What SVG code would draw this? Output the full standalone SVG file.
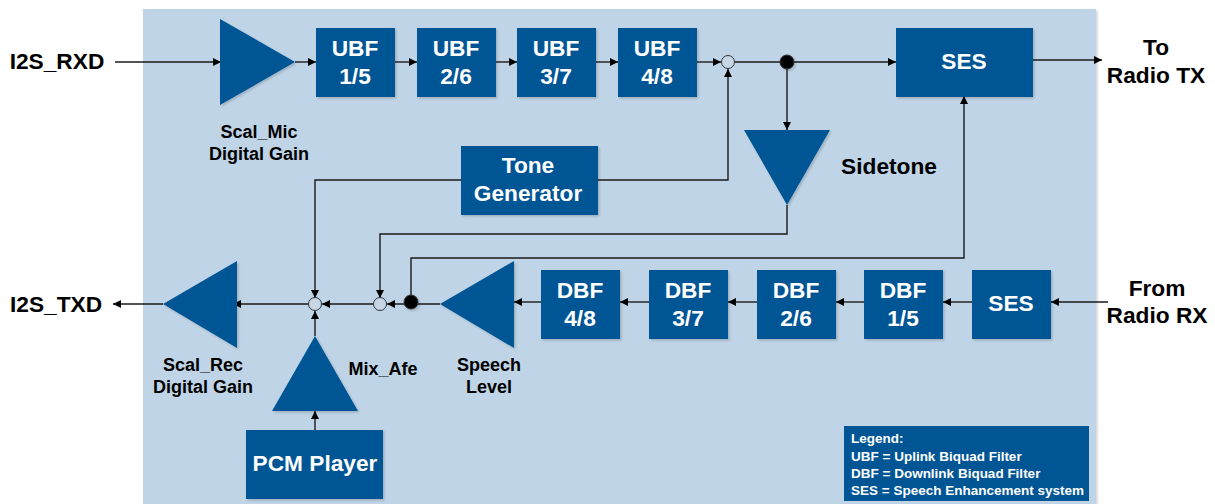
<svg xmlns="http://www.w3.org/2000/svg" width="1215" height="504" viewBox="0 0 1215 504">
<style>
text{font-family:"Liberation Sans",Arial,sans-serif;font-weight:bold;text-anchor:middle}
.b{fill:#005595}
.w{fill:#fff;font-size:22.7px}
.k{fill:#000;font-size:22.7px}
.s{fill:#000;font-size:18px}
.l{fill:#fff;font-size:13.5px;text-anchor:start}
.c{fill:none;stroke:#1a1a1a;stroke-width:1.4;marker-end:url(#a)}
.o{fill:#c6d6e4;stroke:#333;stroke-width:1}
.f{fill:#000;stroke:#333;stroke-width:1}
</style>
<defs>
<marker id="a" markerUnits="userSpaceOnUse" markerWidth="9" markerHeight="9" refX="8" refY="4" orient="auto"><path d="M0,0L8,4L0,8z" fill="#000"/></marker>
<filter id="sh" x="-10%" y="-10%" width="125%" height="125%"><feDropShadow dx="1.5" dy="1.5" stdDeviation="0.8" flood-color="#000" flood-opacity="0.18"/></filter>
</defs>
<rect id="background" x="143" y="9" width="953" height="495" fill="#bfd4e6" filter="url(#sh)"/>
<g id="connectors">
<path class="c" d="M115,62H221"/>
<path class="c" d="M295,62H316"/>
<path class="c" d="M395,62H417"/>
<path class="c" d="M496,62H517"/>
<path class="c" d="M596,62H618"/>
<path class="c" d="M697,62H721"/>
<path class="c" d="M735,62H896"/>
<path class="c" d="M1033,60H1102"/>
<path class="c" d="M787,62V130"/>
<path class="c" d="M598,180H728V69"/>
<path class="c" d="M461,180H315V298"/>
<path class="c" d="M787,205V234H380V298"/>
<path class="c" d="M411,302V258H964V96"/>
<path class="c" d="M1108,302H1051"/>
<path class="c" d="M972,302H943"/>
<path class="c" d="M864,302H836"/>
<path class="c" d="M757,302H728"/>
<path class="c" d="M649,302H620"/>
<path class="c" d="M541,302H514"/>
<path class="c" d="M440,304H387"/>
<path class="c" d="M373,304H322"/>
<path class="c" d="M308,304H233"/>
<path class="c" d="M163,304H113"/>
<path class="c" d="M315,336V311"/>
<path class="c" d="M315,430V411"/>
</g>
<g id="scal-mic"><path class="b" d="M220,19L295,62L220,105z" filter="url(#sh)"/><text class="s" x="259" y="138">Scal_Mic</text><text class="s" x="259" y="160">Digital Gain</text></g>
<g id="ubf1"><rect class="b" x="316" y="28" width="79" height="69" filter="url(#sh)"/><text class="w" x="355" y="56">UBF</text><text class="w" x="355" y="84">1/5</text></g>
<g id="ubf2"><rect class="b" x="417" y="28" width="79" height="69" filter="url(#sh)"/><text class="w" x="456" y="56">UBF</text><text class="w" x="456" y="84">2/6</text></g>
<g id="ubf3"><rect class="b" x="517" y="28" width="79" height="69" filter="url(#sh)"/><text class="w" x="556" y="56">UBF</text><text class="w" x="556" y="84">3/7</text></g>
<g id="ubf4"><rect class="b" x="618" y="28" width="79" height="69" filter="url(#sh)"/><text class="w" x="657" y="56">UBF</text><text class="w" x="657" y="84">4/8</text></g>
<g id="sum-ul"><circle class="o" cx="728" cy="62" r="6.5"/></g>
<g id="dot-ul"><circle class="f" cx="787" cy="62" r="7" filter="url(#sh)"/></g>
<g id="ses-ul"><rect class="b" x="896" y="28" width="137" height="69" filter="url(#sh)"/><text class="w" x="964" y="69">SES</text></g>
<g id="sidetone"><path class="b" d="M744,130H830L787,205z" filter="url(#sh)"/><text class="k" x="889" y="174">Sidetone</text></g>
<g id="tone"><rect class="b" x="461" y="146" width="137" height="69" filter="url(#sh)"/><text class="w" x="528" y="173">Tone</text><text class="w" x="528" y="201">Generator</text></g>
<g id="scal-rec"><path class="b" d="M237,261V348L163,304z" filter="url(#sh)"/><text class="s" x="203" y="371">Scal_Rec</text><text class="s" x="203" y="393">Digital Gain</text></g>
<g id="sum-a"><circle class="o" cx="315" cy="304" r="6.5"/></g>
<g id="sum-b"><circle class="o" cx="380" cy="304" r="6.5"/></g>
<g id="dot-dl"><circle class="f" cx="411" cy="302" r="7" filter="url(#sh)"/></g>
<g id="speech"><path class="b" d="M514,261V348L440,304z" filter="url(#sh)"/><text class="s" x="489" y="371">Speech</text><text class="s" x="489" y="393">Level</text></g>
<g id="dbf4"><rect class="b" x="541" y="270" width="79" height="69" filter="url(#sh)"/><text class="w" x="580" y="298">DBF</text><text class="w" x="580" y="326">4/8</text></g>
<g id="dbf3"><rect class="b" x="649" y="270" width="79" height="69" filter="url(#sh)"/><text class="w" x="688" y="298">DBF</text><text class="w" x="688" y="326">3/7</text></g>
<g id="dbf2"><rect class="b" x="757" y="270" width="79" height="69" filter="url(#sh)"/><text class="w" x="796" y="298">DBF</text><text class="w" x="796" y="326">2/6</text></g>
<g id="dbf1"><rect class="b" x="864" y="270" width="79" height="69" filter="url(#sh)"/><text class="w" x="903" y="298">DBF</text><text class="w" x="903" y="326">1/5</text></g>
<g id="ses-dl"><rect class="b" x="972" y="270" width="79" height="69" filter="url(#sh)"/><text class="w" x="1011" y="311">SES</text></g>
<g id="mix"><path class="b" d="M315,336L358,411H272z" filter="url(#sh)"/><text class="s" x="383" y="375">Mix_Afe</text></g>
<g id="pcm"><rect class="b" x="246" y="430" width="137" height="69" filter="url(#sh)"/><text class="w" x="315" y="471">PCM Player</text></g>
<g id="legend"><rect class="b" x="844" y="426" width="245" height="75"/>
<text class="l" x="851" y="443">Legend:</text>
<text class="l" x="851" y="461">UBF = Uplink Biquad Filter</text>
<text class="l" x="851" y="478">DBF = Downlink Biquad Filter</text>
<text class="l" x="851" y="495">SES = Speech Enhancement system</text></g>
<g id="io">
<text class="k" x="57" y="69">I2S_RXD</text>
<text class="k" x="56" y="312">I2S_TXD</text>
<text class="k" x="1156" y="55">To</text>
<text class="k" x="1156" y="83">Radio TX</text>
<text class="k" x="1157" y="296">From</text>
<text class="k" x="1157" y="323">Radio RX</text>
</g>
</svg>
